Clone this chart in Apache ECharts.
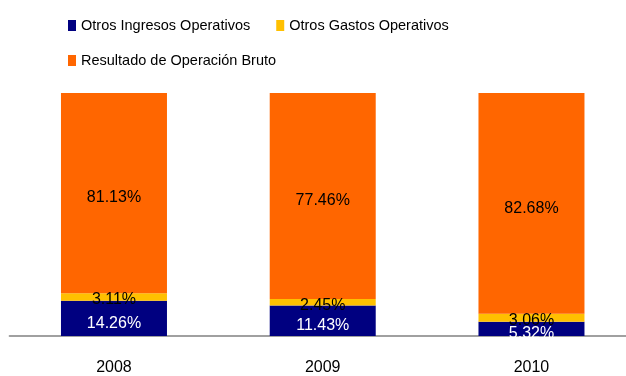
<!DOCTYPE html>
<html>
<head>
<meta charset="utf-8">
<script src="https://cdn.jsdelivr.net/npm/echarts@6/dist/echarts.min.js"></script>
<style>
  html, body { margin: 0; padding: 0; background: #ffffff; overflow: hidden; width: 626px; height: 376px; }
  /* the plot runs past the right edge, so the canvas is a bit wider than the page */
  #chart { width: 646px; height: 376px; }
</style>
</head>
<body>
<div id="chart"></div>
<script>
// Years shown on the category axis
const categories = ['2008', '2009', '2010'];

// Shares per year, in percent
const otrosIngresos = [14.26, 11.43, 5.32];
const otrosGastos = [3.11, 2.45, 3.06];
const resultadoBruto = [81.13, 77.46, 82.68];

const seriesNames = ['Otros Ingresos Operativos', 'Otros Gastos Operativos', 'Resultado de Operación Bruto'];
const seriesColors = ['#000080', '#FFC000', '#FF6600'];
const labelColors = ['#ffffff', '#000000', '#000000'];
const labelShift = [5, 3, 5];

const raw = [otrosIngresos, otrosGastos, resultadoBruto];

// Each column is drawn as a 100% stack: every value is scaled by its year's total
const totals = categories.map((_, i) => raw.reduce((s, arr) => s + arr[i], 0));

const FONT = '"Liberation Sans", Arial, sans-serif';

const series = raw.map((arr, k) => ({
  name: seriesNames[k],
  type: 'bar',
  stack: 'total',
  barWidth: 106,
  itemStyle: { color: seriesColors[k] },
  data: arr.map((v, i) => ({ value: v / totals[i] * 100, raw: v })),
  label: {
    show: true,
    position: 'inside',
    offset: [0, labelShift[k]],
    color: labelColors[k],
    fontFamily: FONT,
    fontSize: 16,
    formatter: p => p.data.raw.toFixed(2) + '%'
  },
  emphasis: { disabled: true }
}));

const chart = echarts.init(document.getElementById('chart'), null, { renderer: 'canvas' });

const legendText = { fontFamily: FONT, fontSize: 14.5, color: '#000000' };

chart.setOption({
  animation: false,
  backgroundColor: '#ffffff',
  legend: [
    {
      data: [seriesNames[0], seriesNames[1]],
      left: 68,
      top: 18,
      padding: 0,
      itemWidth: 8,
      itemHeight: 11,
      itemGap: 26,
      icon: 'rect',
      textStyle: legendText
    },
    {
      data: [seriesNames[2]],
      left: 68,
      top: 53,
      padding: 0,
      itemWidth: 8,
      itemHeight: 11,
      icon: 'rect',
      textStyle: legendText
    }
  ],
  grid: { left: 9.6, width: 626.25, top: 93, height: 244, containLabel: false },
  xAxis: {
    type: 'category',
    data: categories,
    axisLine: { show: true, lineStyle: { color: '#a0a0a0', width: 2 } },
    axisTick: { show: false },
    axisLabel: { fontFamily: FONT, fontSize: 16, color: '#000000', margin: 24 }
  },
  yAxis: {
    type: 'value',
    min: 0,
    max: 100,
    show: false,
    splitLine: { show: false }
  },
  series: series
});
</script>
</body>
</html>
